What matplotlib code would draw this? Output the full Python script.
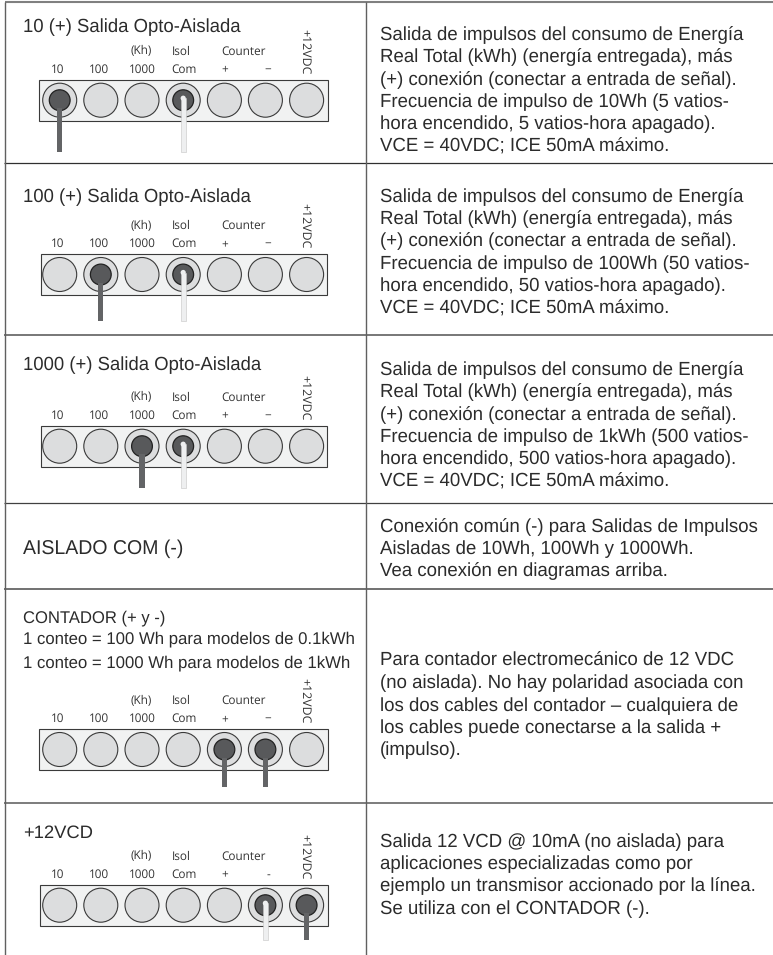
import matplotlib
matplotlib.use("Agg")
import matplotlib.pyplot as plt
from matplotlib.patches import Rectangle, Circle

plt.rcParams["text.hinting"] = "no_hinting"
plt.rcParams["text.hinting_factor"] = 8

# ---------- content ----------
term_labels_bottom = ["10", "100", "1000", "Com", "+", "−"]
term_labels_top = ["(Kh)", "Isol", "Counter"]
power_label = "+12VDC"

titles = [
    ["10 (+) Salida Opto-Aislada"],
    ["100 (+) Salida Opto-Aislada"],
    ["1000 (+) Salida Opto-Aislada"],
    ["AISLADO COM (-)"],
    ["CONTADOR (+ y -)",
     "1 conteo = 100 Wh para modelos de 0.1kWh",
     "1 conteo = 1000 Wh para modelos de 1kWh"],
    ["+12VCD"],
]

def pulse(freq, on):
    return ["Salida de impulsos del consumo de Energía",
            "Real Total (kWh) (energía entregada), más",
            "(+) conexión (conectar a entrada de señal).",
            f"Frecuencia de impulso de {freq} ({on} vatios-",
            f"hora encendido, {on} vatios-hora apagado).",
            "VCE = 40VDC; ICE 50mA máximo."]

descriptions = [
    pulse("10Wh", "5"),
    pulse("100Wh", "50"),
    pulse("1kWh", "500"),
    ["Conexión común (-) para Salidas de Impulsos",
     "Aisladas de 10Wh, 100Wh y 1000Wh.",
     "Vea conexión en diagramas arriba."],
    ["Para contador electromecánico de 12 VDC",
     "(no aislada). No hay polaridad asociada con",
     "los dos cables del contador – cualquiera de",
     "los cables puede conectarse a la salida +",
     "(impulso)."],
    ["Salida 12 VCD @ 10mA (no aislada) para",
     "aplicaciones especializadas como por",
     "ejemplo un transmisor accionado por la línea.",
     "Se utiliza con el CONTADOR (-)."],
]

# terminal index -> wire colour for each diagram (None = row without diagram)
dark_wires = [[0], [1], [2], None, [4, 5], [6]]
white_wires = [[3], [3], [3], None, [], [5]]
minus_labels = ["−", "−", "−", None, "−", "-"]

# ---------- layout (pixels) ----------
W, H = 773, 955
rule_y = [2.5, 163.5, 335, 502.5, 588.5, 802.5]
rule_lw = [1.5, 0.9, 1.4, 0.9, 1.3, 1.2]
rule_col = ["#808080", "#303030", "#777777", "#404040", "#666666", "#666666"]
col_x = [5, 365.5]
title_base = [[32], [201.7], [370], [554], [622, 643.5, 667], [838]]
title_size = [[13.36], [13.36], [13.36], [14.05], [12.0, 12.08, 12.08], [13.2]]
desc_base = [40, 201.7, 375, 531.7, 666, 846.7]
desc_step = 22.35
strip_top = [80, 254.3, 426, None, 729.3, 885]
wire_bottom = [151.7, 321, 487.7, None, 786.7, 940]
strip_x = [[39.3, 328], [40.5, 327], [40.5, 327], None, [39.3, 328], [39.8, 327.5]]
term_x = [59.7, 100.8, 142, 183.2, 224.4, 265.4, 306.6]
label_x = [57.3, 99.5, 142, 184, 225, 268]
top_label_x = [141, 181, 244]
STRIP_H = 41
R_OUT, R_IN = 17, 10.4

SANS = "Liberation Sans"
LABEL = "Open Sans"
TEXT_COL = "#2b2b2b"

fig = plt.figure(figsize=(W / 100, H / 100), dpi=100, facecolor="white")
ax = fig.add_axes([0, 0, 1, 1])
ax.set_xlim(0, W)
ax.set_ylim(H, 0)
ax.axis("off")

for y, lw, c in zip(rule_y, rule_lw, rule_col):
    ax.plot([4 if y > 5 else 5, W], [y, y], color=c, lw=lw, solid_capstyle="butt", zorder=2)
for x in col_x:
    ax.plot([x, x], [2.5, H], color="#606060", lw=1.0, solid_capstyle="butt", zorder=2)


def draw_diagram(i):
    top = strip_top[i]
    x0, x1 = strip_x[i]
    ax.add_patch(Rectangle((x0, top), x1 - x0, STRIP_H, fc="#f1f2f2", ec="#3a3a3a", lw=0.8, zorder=3))
    cy = top + STRIP_H / 2 - 0.3
    active = dark_wires[i] + white_wires[i]
    for k, x in enumerate(term_x):
        ax.add_patch(Circle((x, cy), R_OUT, fc="#dcddde", ec="#3a3a3a", lw=0.8, zorder=4))
        if k in active:
            ax.add_patch(Circle((x, cy), R_IN, fc="#58595b", ec="#222222", lw=0.9, zorder=5))
    for k in dark_wires[i]:
        ax.add_patch(Rectangle((term_x[k] - 2.6, cy + 8), 5.2, wire_bottom[i] - cy - 8,
                               fc="#636466", ec="none", zorder=6))
    for k in white_wires[i]:
        ax.add_patch(Rectangle((term_x[k] - 2.6, cy - 2), 5.2, wire_bottom[i] - cy + 2,
                               fc="#eeeff0", ec="#c4c4c4", lw=0.4, zorder=6))
        ax.add_patch(Circle((term_x[k], cy - 2), 2.6, fc="#eeeff0", ec="none", zorder=6))
    labels = term_labels_bottom[:5] + [minus_labels[i]]
    for x, s in zip(label_x, labels):
        ax.text(x, top - 7.4, s, ha="center", va="baseline", family=LABEL,
                fontsize=8.5, color="#333333", zorder=7)
    for x, s in zip(top_label_x, term_labels_top):
        ax.text(x, top - 25.5, s, ha="center", va="baseline", family=LABEL,
                fontsize=8.5, color="#333333", zorder=7)
    ax.text(305, top - 6, power_label, rotation=270, ha="center", va="bottom", family=LABEL,
            fontsize=8.9, color="#333333", zorder=7)


for i in range(6):
    for line, y, fs in zip(titles[i], title_base[i], title_size[i]):
        ax.text(23, y, line, ha="left", va="baseline", family=SANS, fontsize=fs, color=TEXT_COL, zorder=7)
    for k, line in enumerate(descriptions[i]):
        ax.text(379.5, desc_base[i] + k * desc_step, line, ha="left", va="baseline",
                family=SANS, fontsize=13.46, color=TEXT_COL, zorder=7)
    if strip_top[i] is not None:
        draw_diagram(i)

fig.savefig("out.png", dpi=100)
